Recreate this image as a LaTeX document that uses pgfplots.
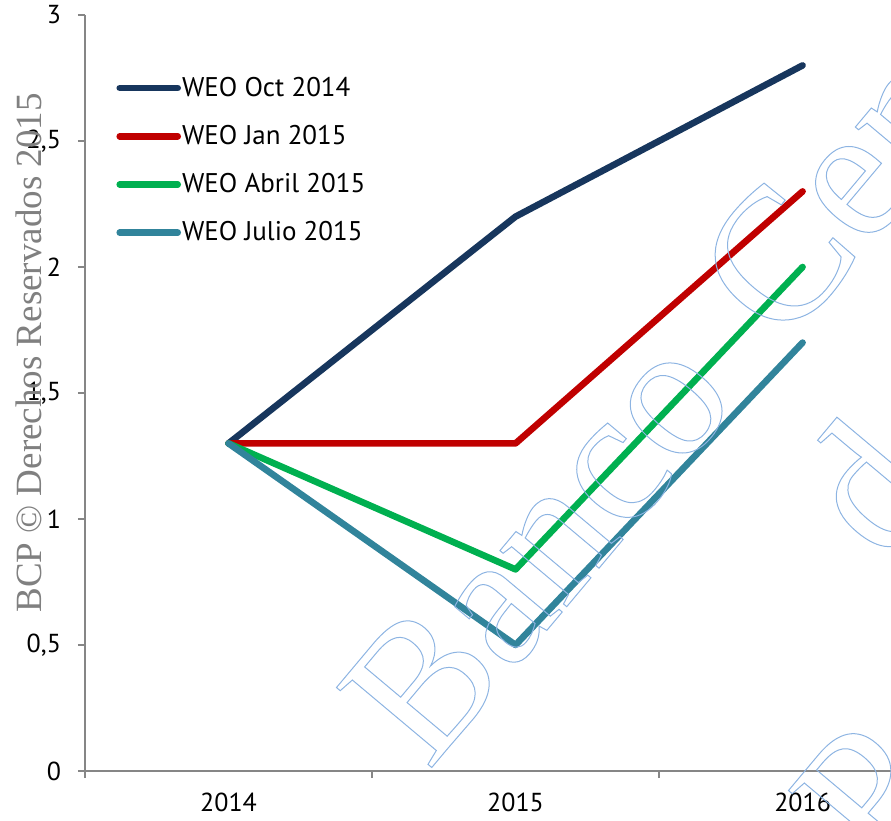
\documentclass[border=0pt]{standalone}
\usepackage{fontspec}
\setmainfont{PT Sans}
\newfontfamily\wmserif{Liberation Serif}
\usepackage{pgfplots}
\pgfplotsset{compat=1.18}
\definecolor{cNavy}{RGB}{23,54,93}
\definecolor{cRed}{RGB}{192,0,0}
\definecolor{cGreen}{RGB}{0,176,80}
\definecolor{cTeal}{RGB}{49,132,155}
\definecolor{cAxis}{RGB}{134,134,134}
\definecolor{cWM}{RGB}{141,180,226}
\definecolor{cGrayWM}{RGB}{128,128,128}
\begin{document}
\begin{tikzpicture}
\useasboundingbox (0,0) rectangle (445.5pt,410.5pt);
\begin{axis}[
  at={(42.5pt,25pt)}, anchor=south west,
  scale only axis, width=403pt, height=378pt,
  xmin=-0.5, xmax=2.308, ymin=0, ymax=3,
  axis x line=bottom, axis y line=left,
  axis line style={-, draw=cAxis, line width=1pt},
  xtick={0,1,2}, xticklabels={2014,2015,2016},
  major x tick style={draw=none},
  minor xtick={-0.5,0.5,1.5},
  minor x tick style={draw=cAxis, line width=1pt},
  minor tick length=3.5pt,
  ytick={0,0.5,1,1.5,2,2.5,3},
  y tick style={draw=cAxis, line width=1pt},
  major tick length=3.5pt,
  tick align=outside,
  ticklabel style={font=\fontsize{13}{15}\selectfont},
  yticklabel style={xshift=-5pt},
  xticklabel style={yshift=-4pt},
  /pgf/number format/.cd, use comma, 1000 sep={}, assume math mode=true,
  /pgfplots/.cd,
  legend style={at={(0.0385,0.9239)}, anchor=north west, draw=none, fill=none,
    inner sep=0pt, font=\fontsize{13.5}{15}\selectfont, row sep=9pt,
    nodes={inner xsep=0.5pt}},
  legend cell align=left,
  legend image code/.code={\draw[#1, line cap=round] (0pt,0pt) -- (29pt,0pt);},
  every axis plot/.append style={line width=3.3pt, line cap=round, line join=round},
]
\addplot[cNavy] coordinates {(0,1.3) (1,2.2) (2,2.8)};
\addlegendentry{WEO Oct 2014}
\addplot[cRed] coordinates {(0,1.3) (1,1.3) (2,2.3)};
\addlegendentry{WEO Jan 2015}
\addplot[cGreen] coordinates {(0,1.3) (1,0.8) (2,2.0)};
\addlegendentry{WEO Abril 2015}
\addplot[cTeal] coordinates {(0,1.3) (1,0.5) (2,1.7)};
\addlegendentry{WEO Julio 2015}
\end{axis}
\node[rotate=90, anchor=base west, inner sep=0pt, text=cGrayWM,
  font=\wmserif\fontsize{18.5}{18.5}\selectfont] at (21pt,104pt) {BCP © Derechos Reservados 2015};
\begin{scope}[every node/.style={rotate=50, anchor=base west, inner sep=0pt, text=cWM,
  font=\wmserif\fontsize{95}{95}\selectfont}]
\node at (214pt,24.5pt) {\special{pdf:literal direct 1 Tr 0.5 w}Banco\hspace{10pt} Central\special{pdf:literal direct 0 Tr}};
\node at (442.5pt,128pt) {\special{pdf:literal direct 1 Tr 0.5 w}de Reserva del Perú\special{pdf:literal direct 0 Tr}};
\node at (440pt,-27pt) {\special{pdf:literal direct 1 Tr 0.5 w}Perú\special{pdf:literal direct 0 Tr}};
\end{scope}
\end{tikzpicture}
\end{document}
